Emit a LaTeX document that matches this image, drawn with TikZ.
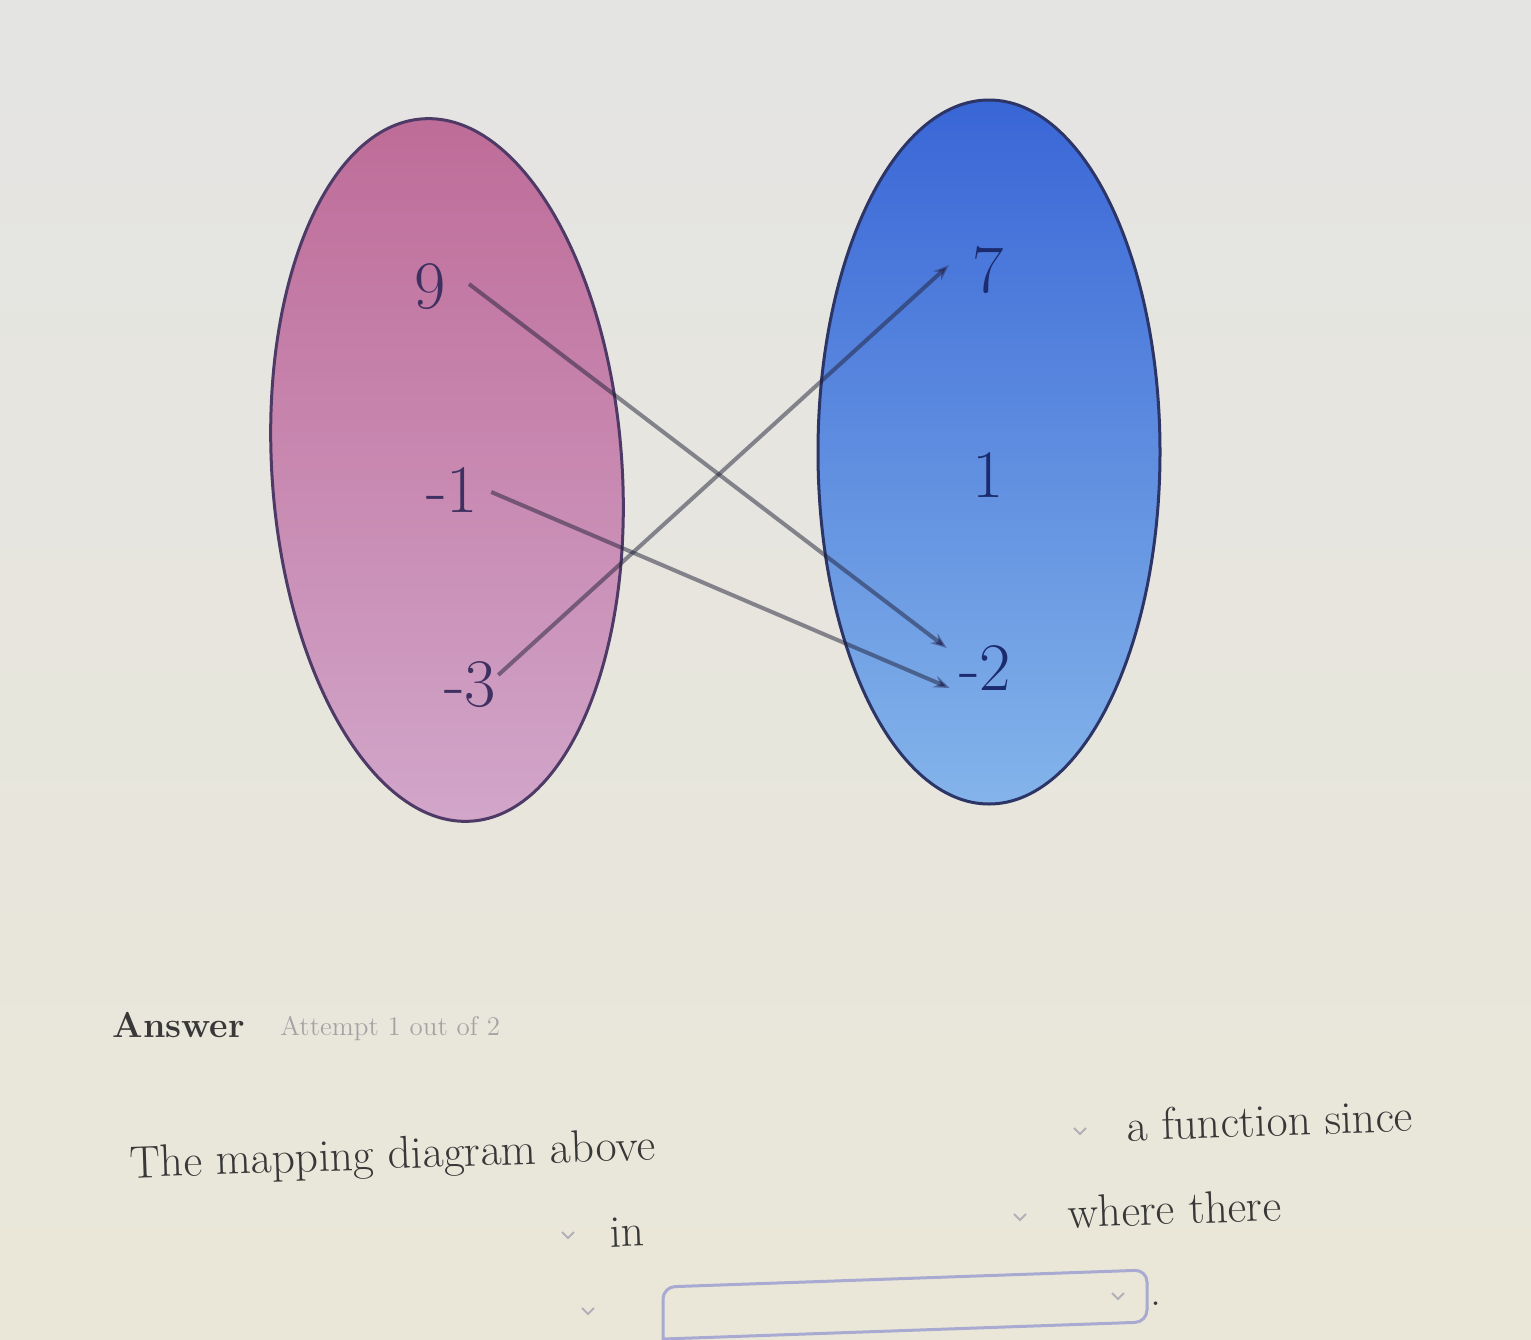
\documentclass[tikz,border=0pt]{standalone}
\usetikzlibrary{arrows.meta,calc}
\definecolor{bgtop}{HTML}{E4E4E3}
\definecolor{bgbot}{HTML}{EAE7D8}
\definecolor{pinktop}{HTML}{BE6C98}
\definecolor{pinkbot}{HTML}{D2A6CA}
\definecolor{pinkedge}{HTML}{4E3A66}
\definecolor{bluetop}{HTML}{3966D6}
\definecolor{bluebot}{HTML}{84B4EA}
\definecolor{blueedge}{HTML}{2C3566}
\definecolor{lnum}{HTML}{3E3060}
\definecolor{rnum}{HTML}{1C2A6E}
\definecolor{linec}{HTML}{202038}
\definecolor{tipc}{HTML}{2A3060}
\definecolor{txt}{HTML}{383838}
\definecolor{faint}{HTML}{A4A4A4}
\definecolor{chev}{HTML}{B0B0B8}
\definecolor{boxc}{HTML}{A8AAD2}
\begin{document}
\begin{tikzpicture}[x=0.5pt,y=-0.5pt,
  num/.style={inner sep=0pt,font=\fontsize{34}{38}\selectfont},
  lnumst/.style={num,text=lnum},
  rnumst/.style={num,text=rnum},
  conn/.style={draw=linec,line width=2pt,draw opacity=0.5,-{Stealth[length=8pt,width=6pt,color=tipc]}},
  body/.style={text=txt,inner sep=0pt,anchor=base west,rotate=2,font=\fontsize{22.8}{26}\selectfont},
  chevst/.style={draw=chev,line width=1pt}]
\useasboundingbox (0,0) rectangle (1531,1339);
\shade[top color=bgtop,bottom color=bgbot] (0,0) rectangle (1531,1339);
% sets
\shade[top color=pinktop,bottom color=pinkbot,draw=pinkedge,line width=1.5pt,rotate around={4:(447,470)}]
  (447,470) ellipse [x radius=175,y radius=352];
\shade[top color=bluetop,bottom color=bluebot,draw=blueedge,line width=1.5pt]
  (989,452) ellipse [x radius=171,y radius=352];
% numbers
\node[lnumst] (n9) at (430,287) {9};
\node[lnumst] (n1) at (452,490) {-1};
\node[lnumst] (n3) at (470,685) {-3};
\node[rnumst] (m7) at (988,270) {7};
\node[rnumst] (m1) at (988,475) {1};
\node[rnumst] (m2) at (985,668) {-2};
% mapping
\draw[conn] ($(n9.east)+(23,-3)$) -- ($(m2.west)+(-12,-20)$);
\draw[conn] ($(n1.east)+(13,2)$) -- ($(m2.west)+(-9,20)$);
\draw[conn] ($(n3.east)+(2,-10)$) -- ($(m7.west)+(-23,-5)$);
% answer area
\node[text=txt,inner sep=0pt,anchor=base west,font=\fontsize{18}{22}\selectfont\bfseries] (ans) at (112,1037) {Answer};
\node[text=faint,inner sep=0pt,anchor=base west,font=\fontsize{13.5}{16}\selectfont] (att) at (280,1035) {Attempt 1 out of 2};
\node[body] (t1) at (130,1178) {The mapping diagram above};
\node[body] (t2) at (1127,1141) {a function since};
\node[body] (t3) at (610,1247) {in};
\node[body] (t4) at (1068,1228) {where there};
% dropdown chevrons
\draw[chevst] (1074,1128) -- (1080,1134) -- (1086,1128);
\draw[chevst] (562,1232) -- (568,1238) -- (574,1232);
\draw[chevst] (1014,1214) -- (1020,1220) -- (1026,1214);
\draw[chevst] (1112,1293) -- (1118,1299) -- (1124,1293);
\draw[chevst] (582,1308) -- (588,1314) -- (594,1308);
% answer box
\draw[draw=boxc,line width=1.5pt,rounded corners=6pt] (663,1345) -- (663,1287) -- (1147,1270) -- (1147,1322) -- (663,1339);
\node[text=txt,inner sep=0pt,anchor=base west,font=\fontsize{22}{26}\selectfont] (dot) at (1150,1305) {.};
\end{tikzpicture}
\end{document}
